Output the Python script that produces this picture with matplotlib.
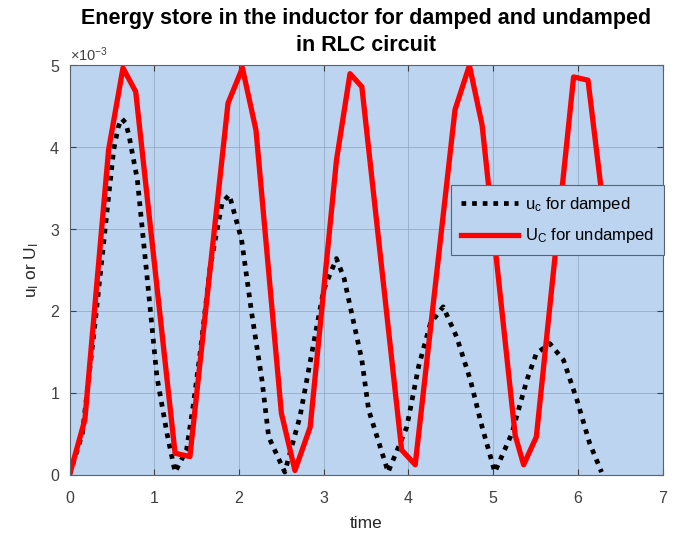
import numpy as np
import matplotlib.pyplot as plt

plt.rcParams['font.family'] = ['Liberation Sans', 'DejaVu Sans']
plt.rcParams['mathtext.default'] = 'regular'

# energia nel caso smorzato (x 1e-3)
t_damped = [0, 0.15, 0.30, 0.45, 0.52, 0.575, 0.615, 0.66, 0.70, 0.80, 0.91, 1.03,
            1.15, 1.245, 1.38, 1.46, 1.54, 1.66, 1.80, 1.885, 2.03, 2.15, 2.27,
            2.35, 2.50, 2.54, 2.72, 2.88, 3.00, 3.15, 3.24, 3.33, 3.45, 3.53,
            3.63, 3.76, 3.98, 4.12, 4.26, 4.41, 4.57, 4.73, 4.87, 5.02, 5.22,
            5.40, 5.51, 5.67, 5.83, 5.99, 6.14, 6.28]
u_damped = [0, 0.50, 1.85, 3.30, 3.97, 4.25, 4.35, 4.30, 4.15, 3.60, 2.46, 1.20,
            0.50, 0.03, 0.30, 0.85, 1.48, 2.54, 3.32, 3.42, 2.87, 1.97, 1.16,
            0.46, 0.12, 0.03, 0.71, 1.60, 2.26, 2.64, 2.40, 1.97, 1.40, 0.79,
            0.46, 0.03, 0.58, 1.32, 1.85, 2.05, 1.68, 1.16, 0.58, 0.03, 0.50,
            1.16, 1.48, 1.60, 1.40, 0.91, 0.38, 0.03]

# energia nel caso non smorzato (x 1e-3)
t_undamped = [0, 0.18, 0.46, 0.63, 0.78, 1.245, 1.42, 1.87, 2.04, 2.20, 2.50,
              2.66, 2.84, 3.15, 3.31, 3.45, 3.92, 4.08, 4.55, 4.72, 4.87, 5.26,
              5.36, 5.51, 5.95, 6.12, 6.28]
u_undamped = [0, 0.67, 3.97, 4.97, 4.68, 0.26, 0.22, 4.54, 4.97, 4.21, 0.75,
              0.05, 0.58, 3.84, 4.90, 4.74, 0.30, 0.12, 4.46, 5.00, 4.27, 0.48,
              0.12, 0.46, 4.86, 4.82, 3.45]

titolo = ["Energy store in the inductor for damped and undamped", "in RLC circuit"]

fig = plt.figure(figsize=(6.74, 5.35), dpi=100)
ax = fig.add_axes([0.1033, 0.113, 0.8797, 0.7646])
ax.set_facecolor('#bcd4f0')

ax.plot(t_damped, np.array(u_damped) * 1e-3, linestyle=(0, (1, 1.25)), color='black',
        linewidth=3.4, label='u$_c$ for damped')
ax.plot(t_undamped, np.array(u_undamped) * 1e-3, linestyle='-', color='#ff0000',
        linewidth=3.8, label='U$_C$ for undamped')

ax.set_xlim(0, 7)
ax.set_ylim(0, 5e-3)
ax.set_xticks(range(0, 8))
ax.set_yticks(np.arange(0, 6) * 1e-3)
ax.ticklabel_format(axis='y', style='sci', scilimits=(-3, -3), useMathText=True)
ax.yaxis.get_offset_text().set_fontsize(10.5)
ax.yaxis.get_offset_text().set_color('#404040')

ax.tick_params(direction='in', length=4, top=True, right=True,
               labelsize=11.5, colors='#404040')
ax.tick_params(axis='x', pad=12)
ax.tick_params(axis='y', pad=7)
for s in ax.spines.values():
    s.set_color('#5a6470')
    s.set_linewidth(0.8)

# griglia stile matlab
ax.grid(True, color='#8fa3ba', linewidth=0.7, alpha=0.7)
ax.set_axisbelow(True)

# titolo su due righe, centrato sugli assi
fig.text(0.543, 0.9645, titolo[0], ha='center', va='center',
         fontsize=15.5, fontweight='bold')
fig.text(0.543, 0.915, titolo[1], ha='center', va='center',
         fontsize=15.5, fontweight='bold')

ax.set_xlabel("time", fontsize=12.5, color='#262626', labelpad=7)
ax.set_ylabel("u$_I$ or U$_I$", fontsize=12.5, color='#262626', labelpad=6)

leg = ax.legend(loc='upper left', bbox_to_anchor=(0.644, 0.708), fancybox=False,
                framealpha=1, facecolor='#bcd4f0', edgecolor='#5a6470',
                fontsize=12, handlelength=3.4, handletextpad=0.4, borderpad=0.6,
                labelspacing=0.75, borderaxespad=0)
leg.get_frame().set_linewidth(0.8)

plt.savefig("out.png")
plt.close()
